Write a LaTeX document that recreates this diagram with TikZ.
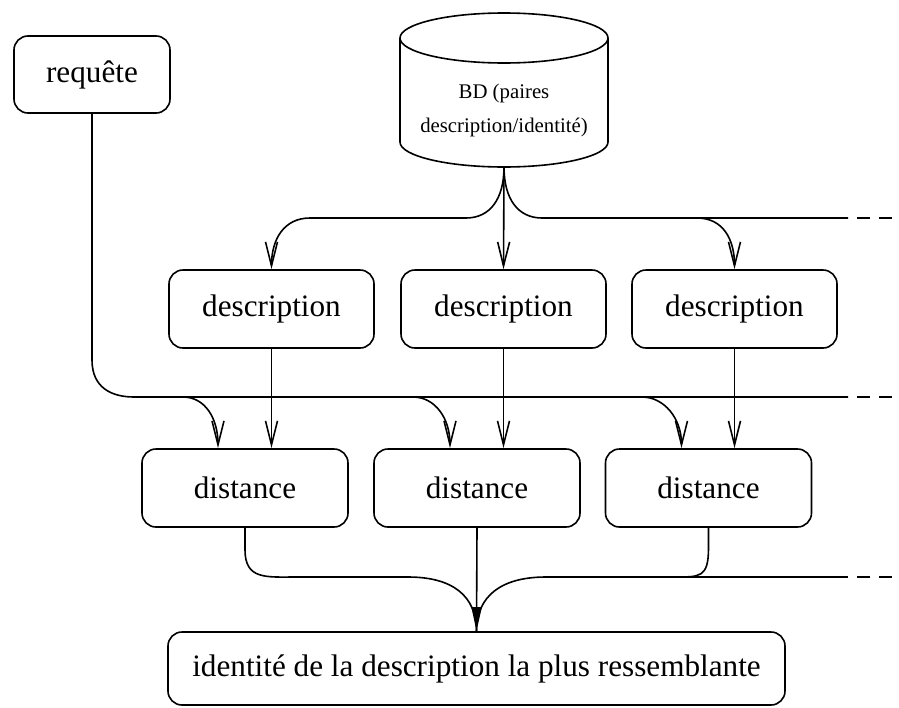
\documentclass[tikz,border=0pt]{standalone}
\usepackage{fontspec}
\setmainfont{Liberation Serif}
\usetikzlibrary{arrows.meta}
\tikzset{
  every picture/.style={line width=0.8pt, x=0.5pt, y=-0.5pt},
  boite/.style={draw, rounded corners=7pt, font=\fontsize{15.6}{18}\selectfont, inner sep=0pt},
  fleche/.style={-{Straight Barb[length=12pt, width=6pt]}},
  flechep/.style={-{Triangle[length=12pt, width=5pt]}},
  suite/.style={dash pattern=on 6.5pt off 4.5pt, dash phase=6.5pt},
}
\begin{document}
\begin{tikzpicture}[
  desc/.style={boite, minimum width=102.5pt, minimum height=39pt},
  dist/.style={boite, minimum width=103pt, minimum height=39pt}]
  \useasboundingbox (0,0) rectangle (899,707);
  \node[boite, minimum width=78pt, minimum height=38.5pt] (requete) at (92,74.5) {requête};
  % la base de donnees
  \draw (504,38) ellipse [x radius=52pt, y radius=12.5pt];
  \draw (400,38) -- (400,142) arc[start angle=180, end angle=360, x radius=52pt, y radius=12.5pt] -- (608,38);
  \node[font=\fontsize{10.4}{17}\selectfont, align=center] (bd) at (504,110) {BD (paires\\description/identité)};
  \coordinate (bdbas) at (504,167);
  \node[desc] (d1) at (271.5,309) {description};
  \node[desc] (d2) at (503.5,309) {description};
  \node[desc] (d3) at (734.5,309) {description};
  \node[dist] (s1) at (245,488) {distance};
  \node[dist] (s2) at (477,488) {distance};
  \node[dist] (s3) at (708.5,488) {distance};
  \node[boite, minimum width=308.5pt, minimum height=36.5pt] (ident) at (476.5,668.5) {identité de la description la plus ressemblante};
  \coordinate (fin1) at (899,218);
  \coordinate (fin2) at (899,397);
  \coordinate (fin3) at (899,577);
  % vers les descriptions
  \draw[fleche] (bdbas) -- (d2.north);
  \draw[fleche] (bdbas) .. controls +(0,32) and +(24,0) .. (466,218) -- (310,218) .. controls +(-26,0) and +(0,-30) .. (d1.north);
  \draw (bdbas) .. controls +(0,32) and +(-24,0) .. (542,218) -- (848,218);
  \draw[suite] (848,218) -- (fin1);
  \draw[fleche] (697,218) .. controls +(26,0) and +(0,-30) .. (d3.north);
  % requete
  \draw (requete.south) -- (92,360) .. controls +(0,28) and +(-22,0) .. (134,397) -- (848,397);
  \draw[suite] (848,397) -- (fin2);
  \foreach \i/\x in {1/183,2/413,3/642} {
    \draw[fleche] (d\i.south) -- (d\i.south |- s\i.north);
    \draw[fleche] (\x,397) .. controls +(22,0) and +(0,-30) .. ([xshift=-13.5pt]s\i.north);
  }
  % vers le resultat
  \draw (s1.south) -- ++(0,22) .. controls +(0,30) and +(-30,0) .. (296,577) -- (408,577) .. controls +(45,0) and +(0,-35) .. (ident.north);
  \draw[flechep] (s2.south) -- (ident.north);
  \draw (s3.south) -- ++(0,20) .. controls +(0,30) and +(26,0) .. (674,577) -- (546,577) .. controls +(-45,0) and +(0,-35) .. (ident.north);
  \draw (674,577) -- (848,577);
  \draw[suite] (848,577) -- (fin3);
\end{tikzpicture}
\end{document}
